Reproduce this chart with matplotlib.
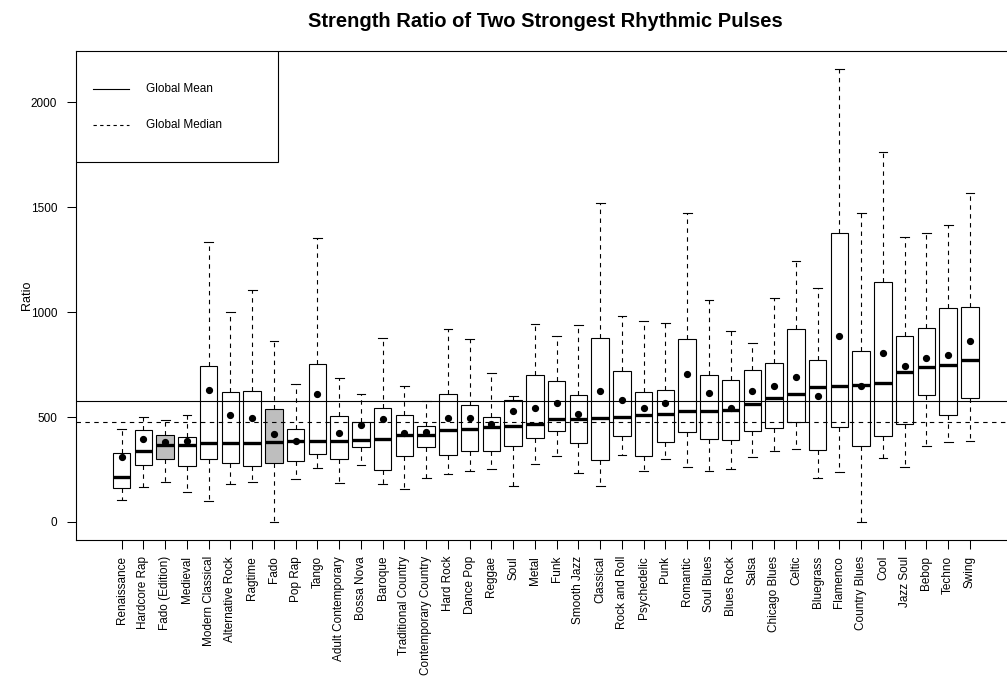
import matplotlib
matplotlib.use('Agg')
import matplotlib.pyplot as plt
from matplotlib.patches import Rectangle
from matplotlib.lines import Line2D

plt.rcParams['font.family'] = ['Liberation Sans', 'DejaVu Sans']

# genres ordered by median ratio
genres = ['Renaissance', 'Hardcore Rap', 'Fado (Edition)', 'Medieval', 'Modern Classical',
          'Alternative Rock', 'Ragtime', 'Fado', 'Pop Rap', 'Tango',
          'Adult Contemporary', 'Bossa Nova', 'Baroque', 'Traditional Country', 'Contemporary Country',
          'Hard Rock', 'Dance Pop', 'Reggae', 'Soul', 'Metal',
          'Funk', 'Smooth Jazz', 'Classical', 'Rock and Roll', 'Psychedelic',
          'Punk', 'Romantic', 'Soul Blues', 'Blues Rock', 'Salsa',
          'Chicago Blues', 'Celtic', 'Bluegrass', 'Flamenco', 'Country Blues',
          'Cool', 'Jazz Soul', 'Bebop', 'Techno', 'Swing']

whisker_lo = [105, 167, 192, 142, 100, 179, 189, 0, 204, 258,
              186, 270, 179, 159, 207, 230, 241, 252, 170, 278,
              316, 232, 170, 320, 244, 298, 263, 242, 252, 310,
              336, 349, 208, 237, 0, 303, 264, 360, 379, 387]
q1 = [162, 273, 301, 268, 298, 281, 268, 279, 290, 323,
      299, 357, 248, 313, 356, 321, 337, 337, 361, 400,
      432, 375, 294, 408, 312, 383, 429, 395, 392, 431,
      446, 475, 341, 450, 363, 410, 467, 605, 509, 591]
medians = [214, 340, 368, 368, 377, 378, 378, 380, 385, 385,
           386, 389, 393, 412, 415, 438, 443, 453, 456, 469,
           491, 491, 493, 500, 511, 513, 528, 530, 535, 564,
           589, 610, 641, 646, 651, 661, 715, 739, 749, 770]
q3 = [330, 440, 412, 403, 745, 621, 626, 539, 445, 751,
      503, 477, 543, 509, 459, 609, 555, 498, 583, 701,
      671, 607, 876, 720, 617, 630, 872, 698, 678, 724,
      756, 919, 774, 1377, 814, 1145, 885, 924, 1021, 1026]
whisker_hi = [443, 502, 487, 510, 1332, 1002, 1106, 864, 658, 1354,
              686, 610, 875, 647, 574, 919, 870, 708, 599, 941,
              887, 937, 1518, 980, 957, 950, 1474, 1057, 911, 855,
              1069, 1246, 1117, 2158, 1474, 1765, 1360, 1376, 1415, 1570]
means = [310, 393, 382, 388, 628, 510, 494, 420, 388, 611,
         422, 461, 490, 426, 427, 493, 493, 469, 528, 541,
         565, 512, 622, 580, 545, 569, 705, 613, 545, 622,
         647, 690, 598, 885, 647, 806, 741, 783, 797, 863]

highlighted = ['Fado (Edition)', 'Fado']
global_mean = 574
global_median = 477

stats = []
for i, g in enumerate(genres):
    stats.append(dict(label=g, whislo=whisker_lo[i], q1=q1[i], med=medians[i],
                      q3=q3[i], whishi=whisker_hi[i], mean=means[i], fliers=[]))

fig = plt.figure(figsize=(10.07, 6.78), dpi=100)
ax = fig.add_axes([76 / 1007, 138 / 678, 939.6 / 1007, 488.9 / 678])

pos = list(range(1, len(genres) + 1))
bp = ax.bxp(stats, positions=pos, widths=0.8, capwidths=0.4, patch_artist=True,
            showmeans=True, showfliers=False,
            boxprops=dict(facecolor='white', edgecolor='black', linewidth=0.8),
            medianprops=dict(color='black', linewidth=2.4),
            whiskerprops=dict(color='black', linewidth=0.8, linestyle=(0, (4, 4))),
            capprops=dict(color='black', linewidth=0.8),
            meanprops=dict(marker='o', markerfacecolor='black', markeredgecolor='black',
                           markersize=4.2, zorder=5))
for patch, g in zip(bp['boxes'], genres):
    if g in highlighted:
        patch.set_facecolor('#bebebe')

ax.axhline(global_mean, color='black', lw=0.8, zorder=4)
ax.axhline(global_median, color='black', lw=0.8, ls=(0, (4, 4)), zorder=4)

# R-style 4% padding on both axes
n = len(genres)
ax.set_xlim(0.5 - 0.04 * n, n + 0.5 + 0.04 * n)
lo, hi = min(whisker_lo), max(whisker_hi)
ax.set_ylim(lo - 0.04 * (hi - lo), hi + 0.04 * (hi - lo))

ax.set_xticks(pos)
ax.set_xticklabels(genres, rotation=90, fontsize=8.5)
ax.set_yticks([0, 500, 1000, 1500, 2000])
ax.set_yticklabels(['0', '500', '1000', '1500', '2000'], fontsize=8.5)
ax.tick_params(axis='both', direction='out', length=6.5, width=0.75, color='black')
ax.tick_params(axis='y', pad=7)
ax.tick_params(axis='x', pad=5)
for s in ax.spines.values():
    s.set_linewidth(0.8)
    s.set_color('black')

ax.set_ylabel('Ratio', fontsize=9)
ax.yaxis.set_label_coords(-0.046, 0.5)
ax.set_title('Strength Ratio of Two Strongest Rhythmic Pulses', fontsize=14.5,
             fontweight='bold', pad=17)

# legend box in the top-left corner
ax.add_patch(Rectangle((0, 0.774), 0.215, 0.226, transform=ax.transAxes,
                       facecolor='white', edgecolor='black', lw=0.8, zorder=6))
ax.add_line(Line2D([0.018, 0.056], [0.922, 0.922], transform=ax.transAxes,
                   color='black', lw=0.8, zorder=7))
ax.add_line(Line2D([0.018, 0.056], [0.849, 0.849], transform=ax.transAxes,
                   color='black', lw=0.8, ls=(0, (3, 3)), zorder=7))
ax.text(0.0745, 0.922, 'Global Mean', transform=ax.transAxes, va='center',
        fontsize=8.5, zorder=7)
ax.text(0.0745, 0.849, 'Global Median', transform=ax.transAxes, va='center',
        fontsize=8.5, zorder=7)

fig.savefig('out.png', dpi=100)
